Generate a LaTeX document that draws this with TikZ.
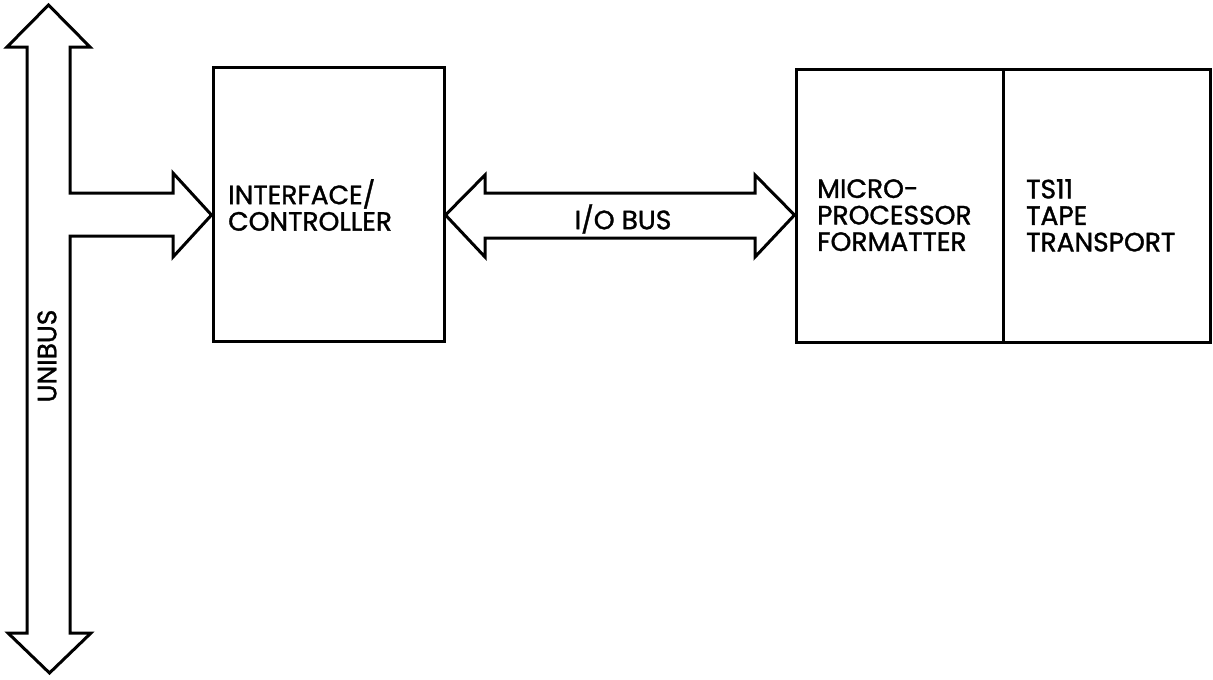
\documentclass[tikz,border=0pt]{standalone}
\usepackage{fontspec}
\setmainfont{Poppins}
\newfontfamily\lblfont{Poppins}[FakeBold=1.3]
\begin{document}
\begin{tikzpicture}[x=1pt,y=-1pt,
  outline/.style={line width=3pt, line join=miter, fill=white},
  lbl/.style={font=\lblfont\fontsize{26.5}{26.5}\selectfont, align=left, inner sep=0pt, anchor=north west}]
\useasboundingbox (0,0) rectangle (1213,680);
% boxes
\node[draw, line width=3pt, minimum width=231pt, minimum height=274pt, inner sep=0pt] (ic) at (328.5,204) {};
\node[draw, line width=3pt, minimum width=207pt, minimum height=273pt, inner sep=0pt] (mp) at (899.5,205.5) {};
\node[draw, line width=3pt, minimum width=207pt, minimum height=273pt, inner sep=0pt] (tt) at (1106.5,205.5) {};
% labels
\node[lbl] (ict) at (228,179) {INTERFACE/\\CONTROLLER};
\node[lbl] (mpt) at (817,179) {MICRO-\\PROCESSOR\\FORMATTER};
\node[lbl] (ttt) at (1026,179) {TS11\\TAPE\\TRANSPORT};
% unibus arrow with branch
\coordinate (ubtop) at (48.5,5);
\coordinate (ubbot) at (49.5,673);
\coordinate (brtip) at (ic.west |- 0,215);
\draw[outline] (ubtop) -- (90,47) -- (70,47) -- (70,193) -- (173,193) -- (173,173)
  -- (brtip) -- (173,257) -- (173,236) -- (70,236) -- (70,633) -- (91,633)
  -- (ubbot) -- (8,633) -- (27,633) -- (27,47) -- (7,47) -- cycle;
\node[font=\lblfont\fontsize{26.5}{26.5}\selectfont, rotate=90, inner sep=0pt] (ub) at (47,356) {UNIBUS};
% I/O bus arrow
\coordinate (iol) at (ic.east |- 0,215);
\coordinate (ior) at (mp.west |- 0,215);
\draw[outline] (iol) -- (485,175) -- (485,193) -- (755,193) -- (755,175) -- (ior)
  -- (755,257) -- (755,238) -- (485,238) -- (485,257) -- cycle;
\node[font=\lblfont\fontsize{26.5}{26.5}\selectfont, inner sep=0pt] (iob) at (623,219) {I/O BUS};
\end{tikzpicture}
\end{document}
